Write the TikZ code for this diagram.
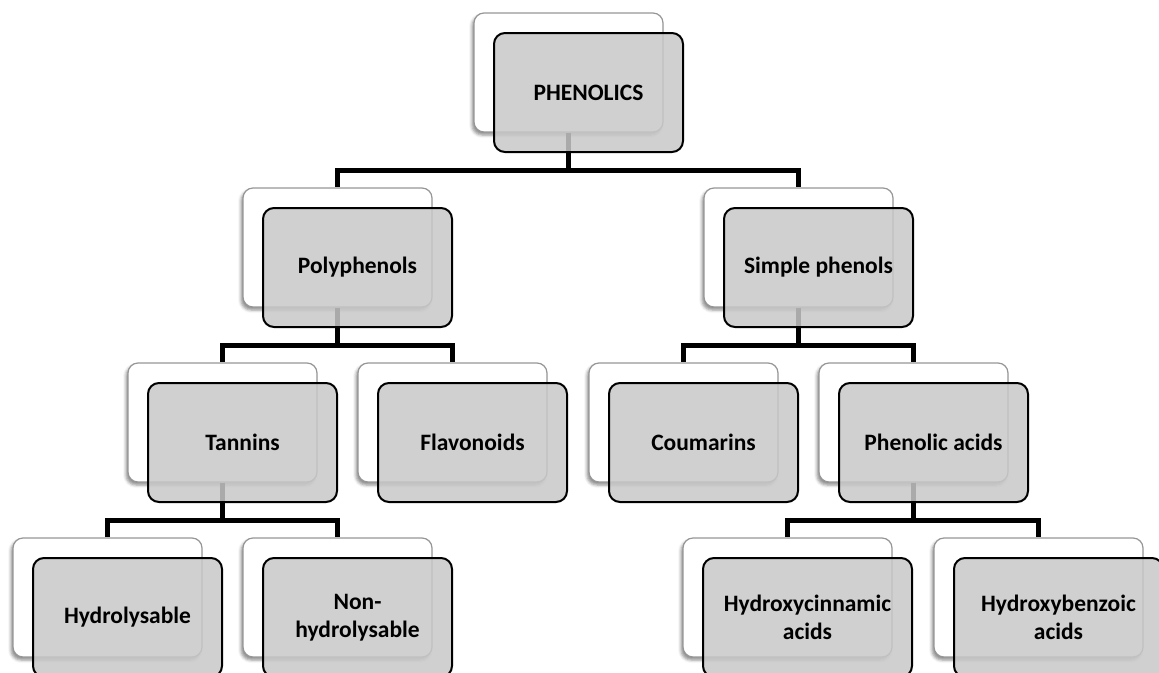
\documentclass[tikz,border=0pt]{standalone}
\usepackage{fontspec}
\setmainfont{Carlito}
\usetikzlibrary{shadows.blur}
\definecolor{boxgrey}{RGB}{200,200,200}
\definecolor{edgegrey}{RGB}{150,150,150}
\tikzset{
  backbox/.style={draw=edgegrey, line width=1.2pt, fill=white, rounded corners=10pt,
    minimum width=189pt, minimum height=119pt, inner sep=0pt,
    blur shadow={shadow xshift=-2pt, shadow yshift=-3pt, shadow opacity=45, shadow blur radius=3pt}},
  frontbox/.style={draw=black, line width=2pt, fill=boxgrey, fill opacity=0.85, text opacity=1,
    rounded corners=11pt, minimum width=189pt, minimum height=119pt, inner sep=0pt, align=center,
    font=\fontsize{23.5}{28}\selectfont\bfseries},
  widebox/.style={minimum width=209pt},
  link/.style={line width=5pt, line join=miter},
}
\begin{document}
\begin{tikzpicture}[x=1pt,y=-1pt]
\useasboundingbox (0,0) rectangle (1159,672);
% back boxes
\node[backbox] (w0) at (568.5,72.5) {};
\node[backbox] (w1) at (337.5,247.5) {};
\node[backbox] (w2) at (798.5,247.5) {};
\node[backbox] (w3) at (222.5,422.5) {};
\node[backbox] (w4) at (452.5,422.5) {};
\node[backbox] (w5) at (683.5,422.5) {};
\node[backbox] (w6) at (913.5,422.5) {};
\node[backbox] (w7) at (107.5,597.5) {};
\node[backbox] (w8) at (337.5,597.5) {};
\node[backbox,widebox] (w9) at (787.5,597.5) {};
\node[backbox,widebox] (w10) at (1038.5,597.5) {};
% junctions
\coordinate (j0) at (568.5,170.5);
\coordinate (j1) at (337.5,345.5);
\coordinate (j2) at (798.5,345.5);
\coordinate (j3) at (222.5,520.5);
\coordinate (j6) at (913.5,520.5);
% connectors
\draw[link] (w0.south) -- (j0) -| (w1.north);
\draw[link] (w0.south) -- (j0) -| (w2.north);
\draw[link] (w1.south) -- (j1) -| (w3.north);
\draw[link] (w1.south) -- (j1) -| (w4.north);
\draw[link] (w2.south) -- (j2) -| (w5.north);
\draw[link] (w2.south) -- (j2) -| (w6.north);
\draw[link] (w3.south) -- (j3) -| (w7.north);
\draw[link] (w3.south) -- (j3) -| (w8.north);
\draw[link] (w6.south) -- (j6) -| (w9.north);
\draw[link] (w6.south) -- (j6) -| (w10.north);
% front boxes
\node[frontbox] (g0) at (588.5,92.5) {PHENOLICS};
\node[frontbox] (g1) at (357.5,267.5) {Polyphenols};
\node[frontbox] (g2) at (818.5,267.5) {Simple phenols};
\node[frontbox] (g3) at (242.5,442.5) {Tannins};
\node[frontbox] (g4) at (472.5,442.5) {Flavonoids};
\node[frontbox] (g5) at (703.5,442.5) {Coumarins};
\node[frontbox] (g6) at (933.5,442.5) {Phenolic acids};
\node[frontbox] (g7) at (127.5,617.5) {Hydrolysable};
\node[frontbox] (g8) at (357.5,617.5) {Non-\\hydrolysable};
\node[frontbox,widebox] (g9) at (807.5,617.5) {Hydroxycinnamic\\acids};
\node[frontbox,widebox] (g10) at (1058.5,617.5) {Hydroxybenzoic\\acids};
\end{tikzpicture}
\end{document}
